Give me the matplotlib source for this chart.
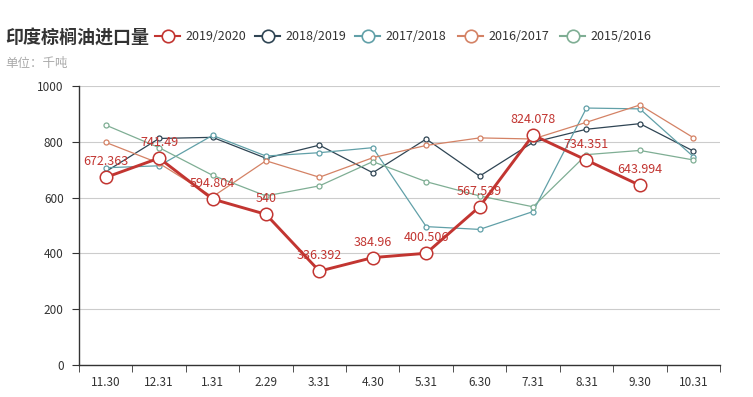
import matplotlib
matplotlib.use("Agg")
import matplotlib.pyplot as plt
from matplotlib.lines import Line2D
import numpy as np

plt.rcParams['font.family'] = ['Noto Sans CJK SC', 'DejaVu Sans']

categories = ["11.30", "12.31", "1.31", "2.29", "3.31", "4.30", "5.31", "6.30", "7.31", "8.31", "9.30", "10.31"]
s2019 = [672.363, 741.49, 594.804, 540, 336.392, 384.96, 400.506, 567.539, 824.078, 734.351, 643.994, None]
s2018 = [693, 812, 816, 741, 788, 689, 810, 677, 798, 845, 865, 767]
s2017 = [707, 714, 823, 749, 761, 779, 496, 486, 550, 921, 918, 747]
s2016 = [798, 723, 603, 732, 673, 743, 787, 814, 810, 870, 932, 815]
s2015 = [860, 779, 680, 606, 642, 729, 657, 606, 567, 754, 769, 735]
labels = ["2019/2020", "2018/2019", "2017/2018", "2016/2017", "2015/2016"]
colors = ["#c23531", "#2f4554", "#61a0a8", "#d48265", "#7fae94"]

W, H = 753, 397
fig = plt.figure(figsize=(W / 100, H / 100), dpi=100)
ax = fig.add_axes([79 / W, (H - 365) / H, (720 - 79) / W, (365 - 86) / H])

x = np.arange(len(categories))
others = [s2018, s2017, s2016, s2015]
for i, s in enumerate(others):
    c = colors[i + 1]
    ax.plot(x, s, color=c, lw=0.9, marker='o', ms=3.6, mfc='white', mec=c, mew=0.9, zorder=3)

red = np.array([np.nan if v is None else v for v in s2019], dtype=float)
ax.plot(x, red, color=colors[0], lw=2.1, marker='o', ms=9, mfc='white', mec=colors[0], mew=1.1, zorder=4)
for xi, v in zip(x, s2019):
    if v is None:
        continue
    ax.annotate(f"{v:g}", (xi, v), xytext=(0, 6.5), textcoords='offset points', ha='center', va='bottom',
                color=colors[0], fontsize=9, zorder=6)

ax.set_xlim(-0.5, len(categories) - 0.5)
ax.set_ylim(0, 1000)
ax.set_yticks(np.arange(0, 1001, 200))
ax.set_yticklabels([str(v) for v in range(0, 1001, 200)], color='#333333', fontsize=8.5)
ax.set_xticks(x)
ax.set_xticklabels(categories, color='#333333', fontsize=8.5)
ax.set_xticks(np.arange(-0.5, len(categories), 1), minor=True)
ax.tick_params(axis='x', which='major', length=0, pad=8)
ax.tick_params(axis='x', which='minor', length=5, color='#333333', direction='out')
ax.tick_params(axis='y', length=5, color='#333333', pad=6)
ax.grid(axis='y', color='#cccccc', lw=0.8, zorder=0)
for sp in ['top', 'right']:
    ax.spines[sp].set_visible(False)
for sp in ['left', 'bottom']:
    ax.spines[sp].set_color('#333333')
    ax.spines[sp].set_linewidth(1)

fig.text(5 / W, 1 - 38 / H, "印度棕榈油进口量", fontsize=13, fontweight='bold', color='#333333', va='center', ha='left')
fig.text(5 / W, 1 - 63 / H, "单位：千吨", fontsize=9, color='#aaaaaa', va='center', ha='left')

leg_x = [155, 255, 355, 458, 560]
for lx, lab, c in zip(leg_x, labels, colors):
    yy = 1 - 36 / H
    fig.add_artist(Line2D([lx / W, (lx + 25) / W], [yy, yy], color=c, lw=1.5, transform=fig.transFigure))
    fig.add_artist(Line2D([(lx + 12.5) / W], [yy], color=c, marker='o', ms=9, mfc='white', mec=c, mew=1.2,
                          transform=fig.transFigure))
    fig.text((lx + 30) / W, yy, lab, fontsize=9, color='#333333', va='center', ha='left')

fig.savefig("out.png", dpi=100)
